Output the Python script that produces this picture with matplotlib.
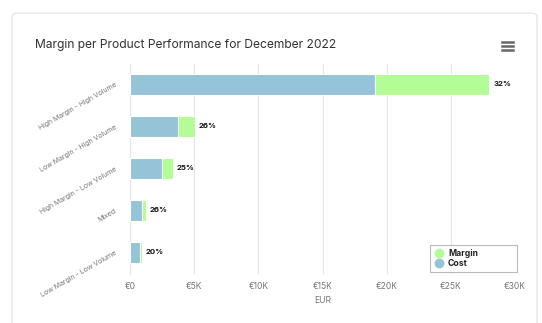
import matplotlib
matplotlib.use("Agg")
import matplotlib.pyplot as plt
from matplotlib.patches import FancyBboxPatch
from matplotlib.lines import Line2D

plt.rcParams['font.family'] = ['Inter', 'DejaVu Sans']

# product groups and their cost / margin in EUR
categories = ["High Margin - High Volume", "Low Margin - High Volume",
              "High Margin - Low Volume", "Mixed", "Low Margin - Low Volume"]
cost = [19100, 3760, 2520, 900, 760]
margin = [8900, 1310, 845, 316, 190]
x_ticks = [0, 5000, 10000, 15000, 20000, 25000, 30000]
x_labels = ["€0", "€5K", "€10K", "€15K", "€20K", "€25K", "€30K"]

cost_color = "#95c3d7"
margin_color = "#b2fd95"

W, H = 542, 323
fig = plt.figure(figsize=(W / 100, H / 100), dpi=100)
fig.patch.set_facecolor("white")

# card outline, kept behind the axes
card = FancyBboxPatch((12 / W, -0.05), (537 - 12) / W, (H - 13) / H + 0.05,
                      boxstyle="round,pad=0,rounding_size=0.012",
                      transform=fig.transFigure, facecolor="white",
                      edgecolor="#e3e8ee", linewidth=1.0, zorder=-5)
fig.patches.append(card)

fig.text(35 / W, 1 - 45 / H, "Margin per Product Performance for December 2022",
         fontsize=8.7, color="#333333", va="center", ha="left")

# menu icon
for yy in (41.5, 45.5, 49.5):
    fig.add_artist(Line2D([502 / W, 513 / W], [1 - yy / H, 1 - yy / H],
                          transform=fig.transFigure, color="#666666", lw=1.8))

ax = fig.add_axes([130 / W, (H - 273.5) / H, (515 - 130) / W, (273.5 - 63.5) / H])
ax.set_zorder(2)
ax.patch.set_alpha(0)
ypos = list(range(len(categories)))
ax.barh(ypos, cost, height=0.48, color=cost_color, edgecolor="white", linewidth=0.8, zorder=3)
ax.barh(ypos, margin, left=cost, height=0.48, color=margin_color, edgecolor="white",
        linewidth=0.8, zorder=3)

for y, c, m in zip(ypos, cost, margin):
    pct = round(100 * m / (c + m))
    ax.text(c + m + 300, y, f"{pct}%", fontsize=5.6, color="#111111",
            fontweight="bold", va="center", ha="left", zorder=4)

ax.set_xlim(0, 30000)
ax.set_ylim(len(categories) - 0.5, -0.5)
ax.set_xticks(x_ticks)
ax.set_xticklabels(x_labels, fontsize=6.1, color="#777777")
ax.set_yticks(ypos)
ax.set_yticklabels(categories, fontsize=5.0, color="#777777", rotation=30,
                   ha="right", va="center", rotation_mode="anchor")
ax.tick_params(axis="both", length=0)
ax.tick_params(axis="x", pad=6)
ax.tick_params(axis="y", pad=10)
ax.grid(axis="x", color="#e6e6e6", linewidth=0.8, zorder=0)
for side in ("top", "right", "bottom"):
    ax.spines[side].set_visible(False)
ax.spines["left"].set_color("#e6e6e6")
ax.spines["left"].set_linewidth(0.8)
ax.set_xlabel("EUR", fontsize=6.2, color="#777777", labelpad=4)

handles = [Line2D([], [], marker="o", linestyle="", markersize=6,
                  markerfacecolor=margin_color, markeredgecolor=margin_color),
           Line2D([], [], marker="o", linestyle="", markersize=6,
                  markerfacecolor=cost_color, markeredgecolor=cost_color)]
leg = ax.legend(handles, ["Margin", "Cost"], loc="lower left",
                bbox_to_anchor=(0.78, 0.006, 0.225, 0.13), mode="expand",
                fontsize=6.2, frameon=True, fancybox=False, handletextpad=0.4,
                borderpad=0.45, labelspacing=0.2, handlelength=1.2,
                borderaxespad=0.0)
leg.get_frame().set_edgecolor("#aaaaaa")
leg.get_frame().set_linewidth(0.8)
for t in leg.get_texts():
    t.set_fontweight("bold")
    t.set_color("#222222")

fig.savefig("out.png", dpi=100)
